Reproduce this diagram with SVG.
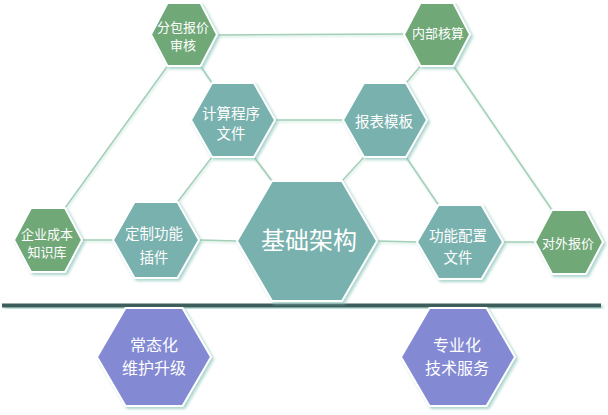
<svg xmlns="http://www.w3.org/2000/svg" width="608" height="415" viewBox="0 0 608 415">
  <defs>
    <filter id="sh" x="-20%" y="-20%" width="140%" height="140%">
      <feDropShadow dx="2" dy="2" stdDeviation="1.6" flood-color="#8cc7bd" flood-opacity="0.75"/>
    </filter>
    <filter id="lsh" x="-10%" y="-10%" width="120%" height="120%">
      <feDropShadow dx="1" dy="1.5" stdDeviation="1" flood-color="#c9e6de" flood-opacity="0.9"/>
    </filter>
  </defs>
  <style>
    .hex { stroke: #ffffff; stroke-width: 2; filter: url(#sh); }
    .g { fill: #70a878; }
    .t { fill: #79b1ae; }
    .p { fill: #8389d3; }
    .lbl { fill: #ffffff; font-family: "Noto Sans CJK SC", "Noto Sans", sans-serif; text-anchor: middle; }
    .s13 { font-size: 13px; }
    .s14 { font-size: 14.5px; }
    .s16 { font-size: 16px; }
    .s24 { font-size: 24px; }
    .conn line { stroke: #a3cfb6; stroke-width: 1.5; }
  </style>
  <rect width="608" height="415" fill="#ffffff"/>

  <g id="connectors" class="conn" filter="url(#lsh)">
    <line x1="217" y1="35" x2="404" y2="34"/>
    <line x1="167.5" y1="66" x2="65" y2="208"/>
    <line x1="200.5" y1="66" x2="212" y2="83"/>
    <line x1="420.5" y1="66" x2="406" y2="83"/>
    <line x1="453.5" y1="66" x2="552" y2="210"/>
    <line x1="275" y1="120" x2="343" y2="120"/>
    <line x1="212" y1="157" x2="177.5" y2="202"/>
    <line x1="254" y1="157" x2="272" y2="181"/>
    <line x1="364" y1="157" x2="342" y2="181"/>
    <line x1="406" y1="157" x2="438.5" y2="205"/>
    <line x1="82" y1="240" x2="113" y2="240"/>
    <line x1="199" y1="240" x2="237" y2="241"/>
    <line x1="377" y1="241" x2="417" y2="242"/>
    <line x1="503" y1="242" x2="535" y2="242"/>
  </g>

  <g id="baseline-bar" filter="url(#sh)">
    <rect x="2" y="303.5" width="599" height="4" fill="#3d5d5b"/>
  </g>

  <g id="n-fenbao">
    <polygon class="hex g" points="151,34.5 167.5,3 200.5,3 217,34.5 200.5,66 167.5,66"/>
    <text class="lbl s13" x="183" y="32">分包报价</text>
    <text class="lbl s13" x="183" y="50">审核</text>
  </g>
  <g id="n-neibu">
    <polygon class="hex g" points="404,34.5 420.5,3 453.5,3 470,34.5 453.5,66 420.5,66"/>
    <text class="lbl s13" x="438" y="38">内部核算</text>
  </g>
  <g id="n-jisuan">
    <polygon class="hex t" points="191,120 212,83 254,83 275,120 254,157 212,157"/>
    <text class="lbl s14" x="231" y="118.5">计算程序</text>
    <text class="lbl s14" x="231" y="138.5">文件</text>
  </g>
  <g id="n-baobiao">
    <polygon class="hex t" points="343,120 364,83 406,83 427,120 406,157 364,157"/>
    <text class="lbl s14" x="384" y="126.5">报表模板</text>
  </g>
  <g id="n-qiye">
    <polygon class="hex g" points="14,240 31,208 65,208 82,240 65,272 31,272"/>
    <text class="lbl s13" x="47" y="239">企业成本</text>
    <text class="lbl s13" x="47" y="257">知识库</text>
  </g>
  <g id="n-dingzhi">
    <polygon class="hex t" points="113,240 134.5,202 177.5,202 199,240 177.5,278 134.5,278"/>
    <text class="lbl s14" x="154" y="238.5">定制功能</text>
    <text class="lbl s14" x="154" y="262.5">插件</text>
  </g>
  <g id="n-jichu">
    <polygon class="hex t" points="237,241 272,181 342,181 377,241 342,301 272,301"/>
    <text class="lbl s24" x="309" y="249">基础架构</text>
  </g>
  <g id="n-gongneng">
    <polygon class="hex t" points="417,242 438.5,205 481.5,205 503,242 481.5,279 438.5,279"/>
    <text class="lbl s14" x="458" y="240.5">功能配置</text>
    <text class="lbl s14" x="458" y="262.5">文件</text>
  </g>
  <g id="n-duiwai">
    <polygon class="hex g" points="535,242 552,210 586,210 603,242 586,274 552,274"/>
    <text class="lbl s13" x="568" y="248">对外报价</text>
  </g>
  <g id="n-changtai">
    <polygon class="hex p" points="97,357 125.5,308 182.5,308 211,357 182.5,406 125.5,406"/>
    <text class="lbl s16" x="154" y="351">常态化</text>
    <text class="lbl s16" x="154" y="374">维护升级</text>
  </g>
  <g id="n-zhuanye">
    <polygon class="hex p" points="401,357 429.5,308 486.5,308 515,357 486.5,406 429.5,406"/>
    <text class="lbl s16" x="457" y="351">专业化</text>
    <text class="lbl s16" x="457" y="374">技术服务</text>
  </g>
</svg>
